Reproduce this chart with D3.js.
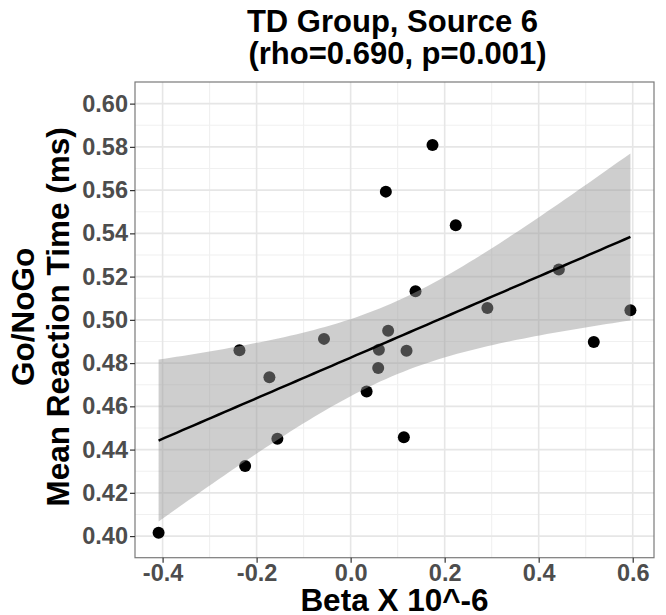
<!DOCTYPE html>
<html>
<head>
<meta charset="utf-8">
<script src="https://cdn.jsdelivr.net/npm/d3@7"></script>
<style>
  html, body { margin: 0; padding: 0; background: #fff; }
  svg { display: block; font-family: "Liberation Sans", Arial, sans-serif; }
</style>
</head>
<body>
<svg id="chart" width="666" height="615"></svg>
<script>
// Source 6 beta weights (x 10^-6) for each TD participant
const beta = [-0.4085, -0.2365, -0.2244, -0.1728, -0.1558, -0.0567, 0.0340, 0.0586,
              0.0601, 0.0798, 0.1189, 0.1132, 0.1380, 0.2909, 0.4429, 0.5951,
              0.2236, 0.1741, 0.0749, 0.5172];
// Go/NoGo mean reaction time for the same participants
const meanRT = [0.4015, 0.4859, 0.4324, 0.4734, 0.4450, 0.4912, 0.4669, 0.4777,
                0.4862, 0.4950, 0.4857, 0.4457, 0.5132, 0.5055, 0.5233, 0.5044,
                0.5438, 0.5809, 0.5593, 0.4898];

const xTicks = [-0.4, -0.2, 0.0, 0.2, 0.4, 0.6];
const yTicks = [0.40, 0.42, 0.44, 0.46, 0.48, 0.50, 0.52, 0.54, 0.56, 0.58, 0.60];
const yLimits = [0.40, 0.60];

const titleLines = ["TD Group, Source 6", "(rho=0.690, p=0.001)"];
const xTitle = "Beta X 10^-6";
const yTitleLines = ["Go/NoGo", "Mean Reaction Time (ms)"];

const W = 666, H = 615;
const margin = { top: 82, right: 12, bottom: 57.3, left: 135 };
const pw = W - margin.left - margin.right;
const ph = H - margin.top - margin.bottom;

const svg = d3.select("#chart");

// ---- linear fit with 95% confidence band ----
const n = beta.length;
const mx = d3.mean(beta), my = d3.mean(meanRT);
let sxx = 0, sxy = 0;
for (let i = 0; i < n; i++) {
  sxx += (beta[i] - mx) ** 2;
  sxy += (beta[i] - mx) * (meanRT[i] - my);
}
const slope = sxy / sxx, intercept = my - slope * mx;
let sse = 0;
for (let i = 0; i < n; i++) sse += (meanRT[i] - intercept - slope * beta[i]) ** 2;
const sigma = Math.sqrt(sse / (n - 2));

// Student t quantile by numeric integration + bisection
function tQuantile(p, df) {
  const f = t => Math.pow(1 + t * t / df, -(df + 1) / 2);
  const integ = (a, b, m) => {
    const h = (b - a) / m; let s = f(a) + f(b);
    for (let k = 1; k < m; k++) s += f(a + k * h) * (k % 2 ? 4 : 2);
    return s * h / 3;
  };
  const half = integ(0, 80, 16000);
  let lo = 0, hi = 20;
  for (let it = 0; it < 60; it++) {
    const mid = (lo + hi) / 2;
    if (0.5 + 0.5 * integ(0, mid, 2000) / half < p) lo = mid; else hi = mid;
  }
  return (lo + hi) / 2;
}
const tq = tQuantile(0.975, n - 2);

const [xmin, xmax] = d3.extent(beta);
const fit = d3.range(80).map(k => {
  const x = xmin + (xmax - xmin) * k / 79;
  const yhat = intercept + slope * x;
  const se = sigma * Math.sqrt(1 / n + (x - mx) ** 2 / sxx);
  return { x, y: yhat, lo: yhat - tq * se, hi: yhat + tq * se };
});

// ---- scales (5% padding on x, y fixed to its limits plus 5%) ----
const xPad = (xmax - xmin) * 0.05;
const x = d3.scaleLinear().domain([xmin - xPad, xmax + xPad]).range([0, pw]);
const yPad = (yLimits[1] - yLimits[0]) * 0.05;
const y = d3.scaleLinear().domain([yLimits[0] - yPad, yLimits[1] + yPad]).range([ph, 0]);

const g = svg.append("g").attr("transform", `translate(${margin.left},${margin.top})`);

g.append("rect").attr("width", pw).attr("height", ph).attr("fill", "#fff");

// minor grid lines sit halfway between the major breaks
const mid = arr => arr.slice(1).map((v, i) => (v + arr[i]) / 2);
const xMinor = mid([xTicks[0] - 0.2, ...xTicks, xTicks[xTicks.length - 1] + 0.2])
  .filter(v => v > x.domain()[0] && v < x.domain()[1]);
const yMinor = mid([yTicks[0] - 0.02, ...yTicks, yTicks[yTicks.length - 1] + 0.02])
  .filter(v => v > y.domain()[0] && v < y.domain()[1]);

const grid = g.append("g");
grid.selectAll(".xminor").data(xMinor).join("line")
  .attr("x1", d => x(d)).attr("x2", d => x(d)).attr("y1", 0).attr("y2", ph)
  .attr("stroke", "#F0F0F0").attr("stroke-width", 1.1);
grid.selectAll(".yminor").data(yMinor).join("line")
  .attr("y1", d => y(d)).attr("y2", d => y(d)).attr("x1", 0).attr("x2", pw)
  .attr("stroke", "#F0F0F0").attr("stroke-width", 1.1);
grid.selectAll(".xmajor").data(xTicks).join("line")
  .attr("x1", d => x(d)).attr("x2", d => x(d)).attr("y1", 0).attr("y2", ph)
  .attr("stroke", "#E6E6E6").attr("stroke-width", 1.6);
grid.selectAll(".ymajor").data(yTicks).join("line")
  .attr("y1", d => y(d)).attr("y2", d => y(d)).attr("x1", 0).attr("x2", pw)
  .attr("stroke", "#E6E6E6").attr("stroke-width", 1.6);

// points first, then the translucent band over them
g.append("g").selectAll("circle").data(beta.map((b, i) => [b, meanRT[i]])).join("circle")
  .attr("cx", d => x(d[0])).attr("cy", d => y(d[1])).attr("r", 6).attr("fill", "#000");

g.append("path").datum(fit)
  .attr("d", d3.area().x(d => x(d.x)).y0(d => y(d.lo)).y1(d => y(d.hi)))
  .attr("fill", "#999999").attr("fill-opacity", 0.48);

g.append("path").datum(fit)
  .attr("d", d3.line().x(d => x(d.x)).y(d => y(d.y)))
  .attr("fill", "none").attr("stroke", "#000").attr("stroke-width", 2.5);

// panel border
g.append("rect").attr("width", pw).attr("height", ph)
  .attr("fill", "none").attr("stroke", "#7a7a7a").attr("stroke-width", 1.2);

// ---- axes ----
const fmtX = v => d3.format(".1f")(v).replace("−", "-");
const xAxis = g.append("g").attr("transform", `translate(0,${ph})`)
  .call(d3.axisBottom(x).tickValues(xTicks).tickFormat(fmtX).tickSize(5).tickPadding(2));
const yAxis = g.append("g")
  .call(d3.axisLeft(y).tickValues(yTicks).tickFormat(d3.format(".2f")).tickSize(5).tickPadding(2));
[xAxis, yAxis].forEach(a => {
  a.select(".domain").remove();
  a.selectAll(".tick line").attr("stroke", "#333").attr("stroke-width", 1.2);
  a.selectAll(".tick text").attr("fill", "#4D4D4D").attr("font-size", 23.5)
    .attr("font-weight", "bold").attr("font-family", "Liberation Sans, Arial, sans-serif");
});

// ---- titles ----
const cx = margin.left + pw / 2;
svg.append("text").attr("x", cx - 2).attr("y", 31.5).attr("text-anchor", "middle")
  .attr("font-size", 31).attr("font-weight", "bold").text(titleLines[0]);
svg.append("text").attr("x", cx + 3).attr("y", 63.5).attr("text-anchor", "middle")
  .attr("font-size", 31).attr("font-weight", "bold").text(titleLines[1]);

svg.append("text").attr("x", cx).attr("y", 611).attr("text-anchor", "middle")
  .attr("font-size", 31.5).attr("font-weight", "bold").text(xTitle);

const cy = margin.top + ph / 2 - 3;
[34, 69].forEach((bx, i) => {
  svg.append("text").attr("transform", `translate(${bx},${cy}) rotate(-90)`)
    .attr("text-anchor", "middle").attr("font-size", 31.5).attr("font-weight", "bold")
    .text(yTitleLines[i]);
});
</script>
</body>
</html>
